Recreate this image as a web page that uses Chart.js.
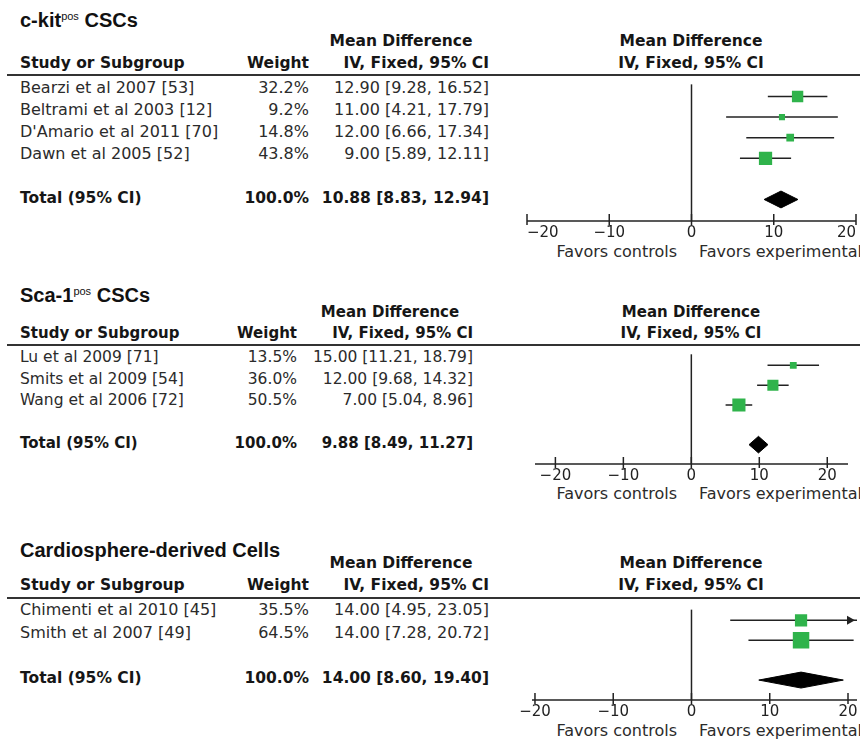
<!DOCTYPE html>
<html><head><meta charset="utf-8">
<script src="https://cdn.jsdelivr.net/npm/chart.js@4/dist/chart.umd.min.js"></script>
<style>
html,body{margin:0;padding:0;background:#fff;}
#page{position:relative;width:860px;height:740px;overflow:hidden;background:#fff;font-family:"DejaVu Sans",sans-serif;color:#2b2b2b;}
.t{position:absolute;white-space:nowrap;line-height:1.2;}
.title{font-family:"Liberation Sans",Arial,sans-serif;font-weight:bold;color:#111;}
.b{font-weight:bold;color:#161616;}
.rule{position:absolute;left:7px;width:853px;height:0;border-top:2px solid #333;}
canvas{position:absolute;}
</style></head><body><div id="page"></div>
<script>
// ---------- DATA ----------
const ckitStudies = ["Bearzi et al 2007 [53]", "Beltrami et al 2003 [12]", "D'Amario et al 2011 [70]", "Dawn et al 2005 [52]"];
const ckitWeight = [32.2, 9.2, 14.8, 43.8];
const ckitMD = [12.90, 11.00, 12.00, 9.00];
const ckitLo = [9.28, 4.21, 6.66, 5.89];
const ckitHi = [16.52, 17.79, 17.34, 12.11];
const ckitTotal = [10.88, 8.83, 12.94]; // estimate, lower, upper

const sca1Studies = ["Lu et al 2009 [71]", "Smits et al 2009 [54]", "Wang et al 2006 [72]"];
const sca1Weight = [13.5, 36.0, 50.5];
const sca1MD = [15.00, 12.00, 7.00];
const sca1Lo = [11.21, 9.68, 5.04];
const sca1Hi = [18.79, 14.32, 8.96];
const sca1Total = [9.88, 8.49, 11.27];

const cdcStudies = ["Chimenti et al 2010 [45]", "Smith et al 2007 [49]"];
const cdcWeight = [35.5, 64.5];
const cdcMD = [14.00, 14.00];
const cdcLo = [4.95, 7.28];
const cdcHi = [23.05, 20.72];
const cdcTotal = [14.00, 8.60, 19.40];

const axisTicks = [-20, -10, 0, 10, 20];
const totalLabel = "Total (95% CI)";
const totalWeightLabel = "100.0%";
const hdrMD = "Mean Difference";
const hdrIV = "IV, Fixed, 95% CI";
const hdrStudy = "Study or Subgroup";
const hdrWeight = "Weight";
const favLeft = "Favors controls";
const favRight = "Favors experimental";

const panels = [
  {title: "c-kit", sup: "pos", titleRest: " CSCs", studies: ckitStudies, weight: ckitWeight, md: ckitMD, lo: ckitLo, hi: ckitHi, total: ckitTotal},
  {title: "Sca-1", sup: "pos", titleRest: " CSCs", studies: sca1Studies, weight: sca1Weight, md: sca1MD, lo: sca1Lo, hi: sca1Hi, total: sca1Total},
  {title: "Cardiosphere-derived Cells", sup: "", titleRest: "", studies: cdcStudies, weight: cdcWeight, md: cdcMD, lo: cdcLo, hi: cdcHi, total: cdcTotal}
];

// ---------- LAYOUT / STYLE ----------
const layouts = [
  {titleY:20, mdY:41, hdrY:63, ruleY:75, rowTop:88, rowStep:22, totalRow:5, axisY:221, favY:252, font:16, bfont:15.5, weightR:309, ciR:489, mdC:401, L:527, R:856, xMin:-20, xMax:20, k:2.0, align:'inner'},
  {titleY:295, mdY:312, hdrY:333, ruleY:345, rowTop:357, rowStep:21.5, totalRow:4, axisY:464, favY:494, font:15.5, bfont:15, weightR:297, ciR:473, mdC:390, L:535, R:848, xMin:-23.0, xMax:23.05, k:1.85, align:'center'},
  {titleY:550, mdY:563, hdrY:585, ruleY:598, rowTop:610, rowStep:22.5, totalRow:3, axisY:700, favY:731, font:16, bfont:15.5, weightR:309, ciR:489, mdC:401, L:532, R:857, xMin:-20.38, xMax:21.15, k:2.05, align:'center'}
];
const GREEN = '#2fb34b';
const INK = '#222';
const DIAMOND_HALF = 9;
const FAV_FONT = 16, TICK_FONT = 15;
const CANVAS_LEFT = 470, CANVAS_RIGHT = 900, AXIS_H = 26;
const page = document.getElementById('page');

function txt(html, x, y, anchor, cls, size) {
  const d = document.createElement('div');
  d.className = 't ' + (cls || '');
  d.innerHTML = html;
  d.style.fontSize = size + 'px';
  d.style.top = y + 'px';
  if (anchor === 'r') { d.style.right = (860 - x) + 'px'; d.style.transform = 'translateY(-50%)'; }
  else if (anchor === 'c') { d.style.left = x + 'px'; d.style.transform = 'translate(-50%,-50%)'; }
  else { d.style.left = x + 'px'; d.style.transform = 'translateY(-50%)'; }
  page.appendChild(d);
  return d;
}
function esc(s){ return s.replace(/&/g,'&amp;').replace(/</g,'&lt;'); }
function ciText(m, l, h){ return m.toFixed(2) + ' [' + l.toFixed(2) + ', ' + h.toFixed(2) + ']'; }

const forestPlugin = {
  id: 'forest',
  beforeDatasetsDraw(chart) {
    const {ctx, chartArea} = chart;
    const xs = chart.scales.x;
    const x0 = xs.getPixelForValue(0);
    ctx.save();
    ctx.strokeStyle = INK; ctx.lineWidth = 1.5;
    ctx.beginPath(); ctx.moveTo(x0, chartArea.top); ctx.lineTo(x0, chartArea.bottom); ctx.stroke();
    ctx.restore();
  },
  afterDraw(chart) {
    const {ctx, chartArea} = chart;
    const xs = chart.scales.x, ys = chart.scales.y;
    const p = chart.options.plugins.forest.panel;
    ctx.save();
    ctx.strokeStyle = INK; ctx.fillStyle = INK; ctx.lineWidth = 1.5;
    const yA = chartArea.bottom;
    ctx.beginPath(); ctx.moveTo(chartArea.left, yA); ctx.lineTo(chartArea.right, yA); ctx.stroke();
    xs.ticks.forEach(t => {
      const x = xs.getPixelForValue(t.value);
      ctx.beginPath(); ctx.moveTo(x, yA - 7); ctx.lineTo(x, yA + 4); ctx.stroke();
    });
    p.hi.forEach((h, i) => {
      if (h > xs.max) {
        const y = ys.getPixelForValue(i);
        const tip = chartArea.right - 2;
        ctx.beginPath(); ctx.moveTo(tip, y); ctx.lineTo(tip - 8, y - 4.5); ctx.lineTo(tip - 8, y + 4.5); ctx.closePath(); ctx.fill();
      }
    });
    ctx.restore();
  }
};

panels.forEach((p, pi) => {
  const lay = layouts[pi];
  const fs = lay.font, bfs = lay.bfont;
  let tHtml = esc(p.title);
  if (p.sup) tHtml += '<span style="font-size:11px;font-weight:normal;position:relative;top:-7px">' + p.sup + '</span>';
  tHtml += esc(p.titleRest);
  txt(tHtml, 20, lay.titleY, 'l', 'title', 20);
  txt(hdrMD, lay.mdC, lay.mdY, 'c', 'b', bfs);
  txt(hdrMD, 691, lay.mdY, 'c', 'b', bfs);
  txt(hdrStudy, 20, lay.hdrY, 'l', 'b', bfs);
  txt(hdrWeight, lay.weightR, lay.hdrY, 'r', 'b', bfs);
  txt(hdrIV, lay.ciR, lay.hdrY, 'r', 'b', bfs);
  txt(hdrIV, 691, lay.hdrY, 'c', 'b', bfs);
  const rule = document.createElement('div');
  rule.className = 'rule'; rule.style.top = (lay.ruleY - 1) + 'px';
  page.appendChild(rule);
  p.studies.forEach((s, i) => {
    const y = lay.rowTop + i * lay.rowStep;
    txt(esc(s), 20, y, 'l', '', fs);
    txt(p.weight[i].toFixed(1) + '%', lay.weightR, y, 'r', '', fs);
    txt(ciText(p.md[i], p.lo[i], p.hi[i]), lay.ciR, y, 'r', '', fs);
  });
  const ty = lay.rowTop + lay.totalRow * lay.rowStep;
  txt(totalLabel, 20, ty, 'l', 'b', bfs);
  txt(totalWeightLabel, lay.weightR, ty, 'r', 'b', bfs);
  txt(ciText(p.total[0], p.total[1], p.total[2]), lay.ciR, ty, 'r', 'b', bfs);
  txt(favLeft, 677, lay.favY, 'r', '', FAV_FONT);
  txt(favRight, 699, lay.favY, 'l', '', FAV_FONT);

  const cv = document.createElement('canvas');
  const W = CANVAS_RIGHT - CANVAS_LEFT;
  const H = lay.axisY - lay.ruleY + AXIS_H;
  cv.width = W; cv.height = H;
  cv.style.left = CANVAS_LEFT + 'px'; cv.style.top = lay.ruleY + 'px';
  cv.style.width = W + 'px'; cv.style.height = H + 'px';
  page.appendChild(cv);

  const datasets = [];
  datasets.push({
    type: 'scatter', data: p.md.map((v, i) => ({x: v, y: i})),
    pointStyle: 'rect', pointRadius: p.weight.map(w => lay.k * Math.sqrt(w) / Math.SQRT2),
    backgroundColor: GREEN, borderColor: GREEN, borderWidth: 0, pointBorderWidth: 0, order: 0
  });
  p.lo.forEach((lo, i) => datasets.push({
    type: 'scatter', showLine: true, data: [{x: lo, y: i}, {x: p.hi[i], y: i}],
    borderColor: INK, borderWidth: 1.5, pointRadius: 0, order: 1
  }));
  const hh = DIAMOND_HALF / lay.rowStep, tr = lay.totalRow;
  datasets.push({
    type: 'scatter', showLine: true, fill: 'shape', tension: 0,
    data: [{x: p.total[1], y: tr}, {x: p.total[0], y: tr - hh}, {x: p.total[2], y: tr}, {x: p.total[0], y: tr + hh}, {x: p.total[1], y: tr}],
    borderColor: '#000', backgroundColor: '#000', borderWidth: 1, pointRadius: 0, order: 0
  });

  new Chart(cv, {
    type: 'scatter',
    data: {datasets},
    options: {
      responsive: false, maintainAspectRatio: false, animation: false, events: [],
      devicePixelRatio: 1,
      layout: {padding: {left: lay.L - CANVAS_LEFT, right: CANVAS_RIGHT - lay.R, top: 0, bottom: 0}},
      plugins: {legend: {display: false}, tooltip: {enabled: false}, forest: {panel: p}},
      scales: {
        x: {
          type: 'linear', position: 'bottom', min: lay.xMin, max: lay.xMax,
          afterBuildTicks: s => { s.ticks = axisTicks.map(v => ({value: v})); },
          afterFit: s => { s.height = AXIS_H; },
          grid: {display: false, drawTicks: false}, border: {display: false},
          ticks: {align: lay.align, padding: 3, color: INK, autoSkip: false, maxRotation: 0,
            font: {family: 'DejaVu Sans', size: TICK_FONT},
            callback: v => v < 0 ? '\u2212' + Math.abs(v) : String(v)}
        },
        y: {type: 'linear', display: false, reverse: true,
          min: (lay.ruleY - lay.rowTop) / lay.rowStep, max: (lay.axisY - lay.rowTop) / lay.rowStep}
      }
    },
    plugins: [forestPlugin]
  });
});
</script></body></html>
